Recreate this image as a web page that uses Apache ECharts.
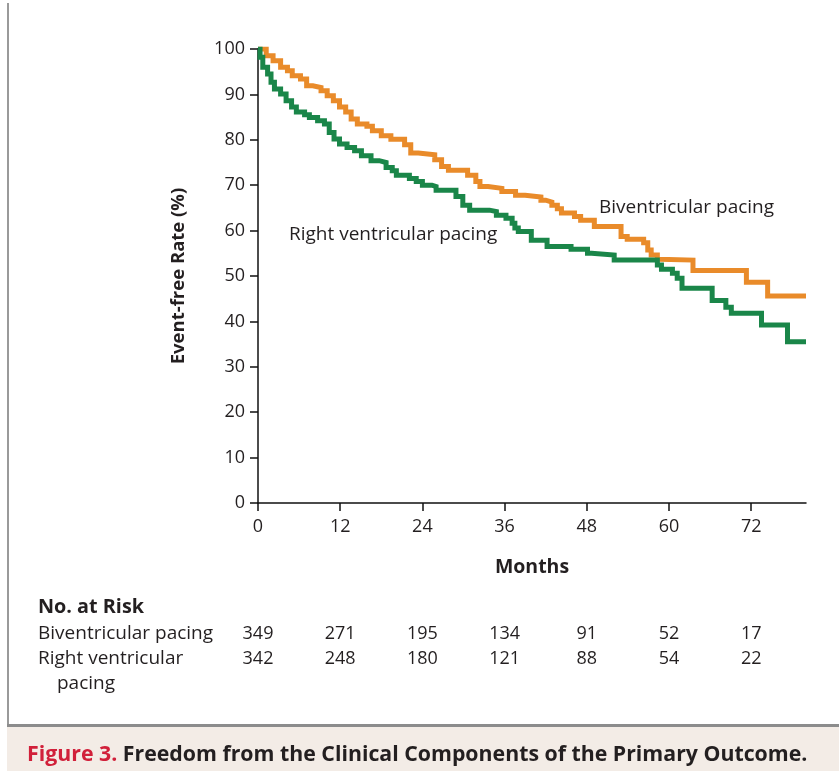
<!DOCTYPE html>
<html>
<head>
<meta charset="utf-8">
<script src="https://cdn.jsdelivr.net/npm/echarts@6/dist/echarts.min.js"></script>
<style>
html,body{margin:0;padding:0;background:#fff;}
#chart{width:839px;height:771px;}
</style>
</head>
<body>
<div id="chart"></div>
<script>
// ---- Data ----
const xTicks = [0, 12, 24, 36, 48, 60, 72];
const yTicks = [0, 10, 20, 30, 40, 50, 60, 70, 80, 90, 100];

const biventMonths = [0,1.2,2.2,3.3,4.3,5.0,6.2,7.1,8.0,9.2,10.1,11.0,11.9,12.8,13.6,14.5,15.9,16.7,18.0,19.4,21.4,22.3,23.4,25.8,26.8,27.8,30.6,31.8,32.4,33.6,35.6,37.6,39.0,41.3,42.0,42.9,43.7,44.3,46.2,47.1,49.1,53.0,53.9,56.3,56.9,57.4,58.3,58.6,63.5,71.3,74.4,80];
const biventValues = [100,98.5,97.4,96.0,95.2,94.1,93.4,91.9,91.5,90.8,89.7,88.6,87.2,86.1,84.6,83.5,83.0,82.0,80.9,80.1,78.9,77.1,76.7,75.6,74.1,73.3,72.2,70.8,69.7,69.3,68.6,67.8,67.4,66.7,66.3,65.6,64.8,63.9,63.1,62.3,60.9,58.7,58.1,57.3,55.7,54.6,53.7,53.5,51.2,48.6,45.6,45.6];

const rightMonths = [0,0.3,0.7,1.4,1.9,2.4,3.3,4.1,4.9,5.6,6.8,7.5,8.7,9.7,10.4,11.1,11.9,13.0,14.1,15.1,16.5,17.7,18.7,19.6,20.2,22.1,23.1,24.0,25.4,26.0,28.9,29.9,30.9,33.8,34.8,36.2,37.1,37.5,38.0,39.9,42.2,45.7,48.1,48.7,52.0,58.3,58.9,60.5,61.2,61.9,66.3,68.3,69.1,73.5,77.3,80];
const rightValues = [100,98.2,96.0,94.5,92.7,91.2,90.1,88.6,87.2,86.1,85.5,84.9,84.2,83.5,81.6,80.2,79.1,78.3,77.6,76.5,75.4,75.0,73.9,73.2,72.2,71.5,70.8,70.0,69.7,68.9,67.5,65.6,64.5,64.2,63.4,62.7,61.6,60.6,59.8,57.9,56.5,55.9,55.0,54.6,53.5,52.4,51.5,50.6,49.5,47.3,44.6,43.1,41.8,39.2,35.5,35.5];

const riskBivent = [349, 271, 195, 134, 91, 52, 17];
const riskRight = [342, 248, 180, 121, 88, 54, 22];

const seriesNames = ['Biventricular pacing', 'Right ventricular pacing'];
const captionLead = 'Figure 3.';
const captionText = ' Freedom from the Clinical Components of the Primary Outcome.';

// ---- Chart ----
const FONT = '"Open Sans"';
const TXT = '#231f20';
const chart = echarts.init(document.getElementById('chart'), null, {renderer: 'canvas'});

const zip = (a, b) => a.map((v, i) => [v, b[i]]);

const option = {
  backgroundColor: '#ffffff',
  animation: false,
  textStyle: {fontFamily: FONT},
  grid: {left: 258, top: 49, right: 33, bottom: 268, containLabel: false},
  xAxis: {
    type: 'value', min: 0, max: 80, interval: 12,
    name: 'Months', nameLocation: 'middle', nameGap: 54,
    nameTextStyle: {fontFamily: FONT, fontSize: 19.5, fontWeight: 'bold', color: TXT},
    axisLine: {show: true, lineStyle: {color: '#111', width: 1.5}},
    axisTick: {show: true, length: 8, lineStyle: {color: '#111', width: 1.5}, customValues: xTicks},
    axisLabel: {fontFamily: FONT, fontSize: 18, color: TXT, margin: 15, customValues: xTicks},
    splitLine: {show: false}
  },
  yAxis: {
    type: 'value', min: 0, max: 100, interval: 10,
    name: 'Event-free Rate (%)', nameLocation: 'middle', nameGap: 70, nameRotate: 90,
    nameTextStyle: {fontFamily: FONT, fontSize: 18.5, fontWeight: 'bold', color: TXT},
    axisLine: {show: true, lineStyle: {color: '#111', width: 1.5}},
    axisTick: {show: true, length: 8, lineStyle: {color: '#111', width: 1.5}},
    axisLabel: {fontFamily: FONT, fontSize: 18, color: TXT, margin: 13},
    splitLine: {show: false}
  },
  series: [
    {
      name: seriesNames[0], type: 'line', step: 'end', showSymbol: false, symbol: 'none',
      data: zip(biventMonths, biventValues),
      lineStyle: {color: '#e98b2a', width: 5, join: 'miter'}, itemStyle: {color: '#e98b2a'}, z: 3
    },
    {
      name: seriesNames[1], type: 'line', step: 'end', showSymbol: false, symbol: 'none',
      data: zip(rightMonths, rightValues),
      lineStyle: {color: '#1a8649', width: 5, join: 'miter'}, itemStyle: {color: '#1a8649'}, z: 4
    }
  ]
};
chart.setOption(option);

// ---- Annotations, risk table, caption ----
const g = [];
const txt = (x, y, s, opt) => Object.assign({
  type: 'text', x: x, y: y,
  style: Object.assign({text: s, fontFamily: FONT, fontSize: 19, fill: TXT, textVerticalAlign: 'middle', textAlign: 'left'}, opt || {})
});

g.push(txt(599, 208, seriesNames[0]));
g.push(txt(289, 235, seriesNames[1]));

// frame
g.push({type: 'rect', shape: {x: 7, y: 3, width: 2, height: 723}, style: {fill: '#9a9a9a'}});
g.push({type: 'rect', shape: {x: 7, y: 727, width: 832, height: 44}, style: {fill: '#f3ece6'}});
g.push({type: 'rect', shape: {x: 7, y: 724, width: 832, height: 3}, style: {fill: '#8c8c8c'}});

// risk table
g.push(txt(38, 607, 'No. at Risk', {fontWeight: 'bold', fontSize: 19.8}));
g.push(txt(38, 634, seriesNames[0]));
g.push(txt(38, 659, 'Right ventricular'));
g.push(txt(57, 684, 'pacing'));
xTicks.forEach((m, i) => {
  const px = chart.convertToPixel({xAxisIndex: 0}, m);
  g.push(txt(px, 634, String(riskBivent[i]), {textAlign: 'center', fontSize: 18}));
  g.push(txt(px, 659, String(riskRight[i]), {textAlign: 'center', fontSize: 18}));
});

// caption
g.push({
  type: 'text', x: 27, y: 755,
  style: {
    text: '{a|' + captionLead + '}{b|' + captionText + '}',
    textVerticalAlign: 'middle',
    rich: {
      a: {fontFamily: FONT, fontSize: 21.3, fontWeight: 'bold', fill: '#d1203a', color: '#d1203a'},
      b: {fontFamily: FONT, fontSize: 21.3, fontWeight: 'bold', fill: TXT, color: TXT}
    }
  }
});

chart.setOption({graphic: {elements: g}});
</script>
</body>
</html>
